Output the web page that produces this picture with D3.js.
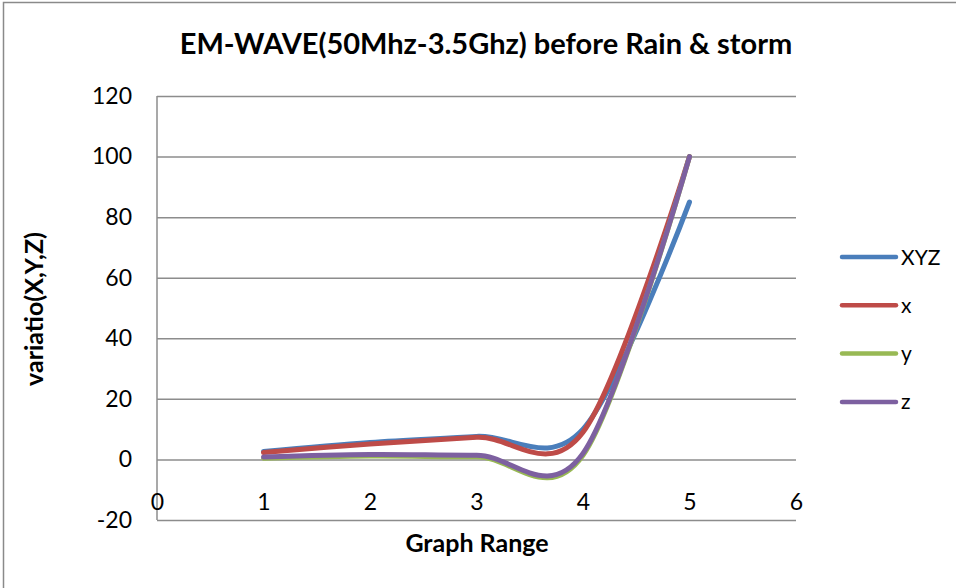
<!DOCTYPE html>
<html>
<head>
<meta charset="utf-8">
<script src="https://cdn.jsdelivr.net/npm/d3@7/dist/d3.min.js"></script>
<style>
  html, body { margin: 0; padding: 0; background: #fff; }
  svg { display: block; }
  text { font-family: Lato, "Open Sans", "Liberation Sans", sans-serif; fill: #000; }
</style>
</head>
<body>
<svg id="chart" width="956" height="588"></svg>
<script>
// Readings taken at Graph Range points 1..5
const xValues = [1, 2, 3, 4, 5];
const seriesNames = ["XYZ", "x", "y", "z"];
const xyzValues = [2.6, 5.6, 7.6, 10, 85];
const xAxisValues = [2.3, 5.1, 7.3, 9, 100];
const yAxisValues = [0.4, 1.1, 0.9, 1.4, 100];
const zAxisValues = [0.8, 1.6, 1.4, 2, 100];
const seriesColors = ["#4A7EBB", "#BE4B48", "#98B954", "#7D60A0"];
const xTicks = [0, 1, 2, 3, 4, 5, 6];
const yTicks = [-20, 0, 20, 40, 60, 80, 100, 120];

const chartTitle = "EM-WAVE(50Mhz-3.5Ghz) before Rain & storm";
const xTitle = "Graph Range";
const yTitle = "variatio(X,Y,Z)";

const series = [xyzValues, xAxisValues, yAxisValues, zAxisValues].map((vals, i) => ({
  name: seriesNames[i],
  color: seriesColors[i],
  points: vals.map((v, j) => ({ x: xValues[j], y: v }))
}));

const svg = d3.select("#chart");
const plot = { left: 157, right: 796, top: 96, bottom: 520 };

const x = d3.scaleLinear().domain([0, 6]).range([plot.left, plot.right]);
const y = d3.scaleLinear().domain([-20, 120]).range([plot.bottom, plot.top]);

// plain hyphen-minus for negative tick values
const plainNumber = d => String(d);

// outer chart frame
svg.append("rect")
  .attr("x", 3.5).attr("y", 2.5)
  .attr("width", 970).attr("height", 620)
  .attr("fill", "#fff")
  .attr("stroke", "#8a8a8a").attr("stroke-width", 1.5);

// horizontal gridlines + y tick labels
const yAxis = svg.append("g")
  .attr("transform", `translate(${plot.left},0)`)
  .call(d3.axisLeft(y).tickValues(yTicks).tickSize(-(plot.right - plot.left)).tickPadding(25).tickFormat(plainNumber));
yAxis.select(".domain").remove();
yAxis.selectAll(".tick line").attr("stroke", "#8c8c8c").attr("stroke-width", 1.5);
yAxis.selectAll(".tick text").style("font-size", "23px").style("font-family", "Lato, sans-serif");

// vertical axis line
svg.append("line")
  .attr("x1", plot.left).attr("x2", plot.left)
  .attr("y1", plot.top).attr("y2", plot.bottom)
  .attr("stroke", "#8c8c8c").attr("stroke-width", 1.5);

// x tick labels, hanging below the zero line
const xAxis = svg.append("g")
  .attr("transform", `translate(0,${y(0)})`)
  .call(d3.axisBottom(x).tickValues(xTicks).tickSize(0).tickPadding(34).tickFormat(plainNumber));
xAxis.select(".domain").remove();
xAxis.selectAll(".tick text").style("font-size", "23px").style("font-family", "Lato, sans-serif");

// smoothed series lines
const line = d3.line()
  .x(d => x(d.x))
  .y(d => y(d.y))
  .curve(d3.curveCatmullRom.alpha(0));

svg.append("g").selectAll("path")
  .data(series)
  .join("path")
  .attr("d", d => line(d.points))
  .attr("fill", "none")
  .attr("stroke", d => d.color)
  .attr("stroke-width", 5)
  .attr("stroke-linecap", "round")
  .attr("stroke-linejoin", "round");

// title
svg.append("text")
  .attr("x", 486).attr("y", 54)
  .attr("text-anchor", "middle")
  .style("font-size", "29px").style("font-weight", "bold")
  .text(chartTitle);

// axis titles
svg.append("text")
  .attr("x", 477).attr("y", 552)
  .attr("text-anchor", "middle")
  .style("font-size", "25px").style("font-weight", "bold")
  .text(xTitle);

svg.append("text")
  .attr("transform", "translate(43,309) rotate(-90)")
  .attr("text-anchor", "middle")
  .style("font-size", "25px").style("font-weight", "bold")
  .text(yTitle);

// legend
const legend = svg.append("g").selectAll("g")
  .data(series)
  .join("g")
  .attr("transform", (d, i) => `translate(842,${257 + i * 48.3})`);
legend.append("line")
  .attr("x1", 0).attr("x2", 54)
  .attr("stroke", d => d.color)
  .attr("stroke-width", 4.5)
  .attr("stroke-linecap", "round");
legend.append("text")
  .attr("x", 59).attr("dy", "0.36em")
  .style("font-size", "21px")
  .text(d => d.name);
</script>
</body>
</html>
